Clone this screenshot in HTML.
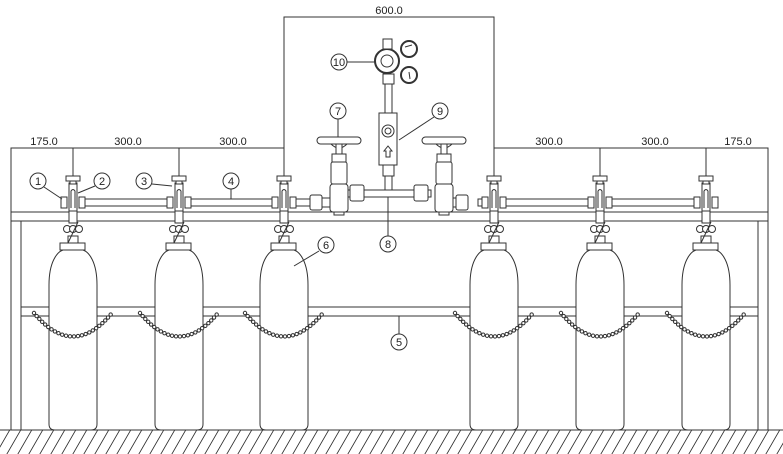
<!DOCTYPE html>
<html><head><meta charset="utf-8"><style>
html,body{margin:0;padding:0;background:#fff;}
svg{display:block;}
text{font-family:"Liberation Sans",sans-serif;font-size:11px;fill:#222;}
</style></head><body>
<svg width="783" height="454" viewBox="0 0 783 454" xmlns="http://www.w3.org/2000/svg">
<defs>
<pattern id="hatch" width="11" height="24" patternUnits="userSpaceOnUse" patternTransform="skewX(-30)">
<line x1="5" y1="0" x2="5" y2="24" stroke="#333" stroke-width="1"/>
</pattern>
<g id="cyl" fill="#fff" stroke="#333" stroke-width="1">
<line x1="0" y1="148" x2="0" y2="176"/>
<path d="M-24,424 V285 C-24,262 -16,252 -10,250 H10 C16,252 24,262 24,285 V424 Q24,430 18,430 H-18 Q-24,430 -24,424Z"/>
<rect x="-13" y="243" width="25" height="7"/>
<rect x="-5" y="236" width="10" height="7"/>
<circle cx="-6" cy="229" r="3.5"/><circle cx="0" cy="229" r="3.5"/><circle cx="6" cy="229" r="3.5"/>
<line x1="-5" y1="243" x2="5" y2="222"/>
<rect x="-4" y="210" width="8" height="13"/>
<rect x="-4" y="183" width="8" height="28"/>
<path d="M-2,208 V191 Q0,188 2,191 V208" fill="none"/>
<rect x="-7" y="176" width="14" height="5"/>
<rect x="-3" y="181" width="6" height="3"/>
<rect x="-12" y="197" width="6" height="11"/>
<rect x="6" y="197" width="6" height="11"/>
</g>
<g id="chain"><path d="M-39,313 Q0,360 39,313" fill="none" stroke="#333" stroke-width="4.4" stroke-dasharray="0 4" stroke-linecap="round"/>
<path d="M-39,313 Q0,360 39,313" fill="none" stroke="#fff" stroke-width="2.4" stroke-dasharray="0 4" stroke-linecap="round"/></g>
<g id="cv" fill="#fff" stroke="#333" stroke-width="1">
<rect x="-22" y="137" width="44" height="7" rx="3.5"/>
<path d="M-8,144 Q0,152 8,144" fill="none"/>
<rect x="-3" y="144" width="6" height="10"/>
<rect x="-7" y="154" width="14" height="8"/>
<rect x="-8" y="162" width="16" height="22" rx="2"/>
<rect x="-9" y="184" width="18" height="28" rx="3"/>
<rect x="-5" y="212" width="10" height="3"/>
</g>
</defs>
<!-- ground -->
<rect x="0" y="430" width="783" height="24" fill="url(#hatch)"/>
<line x1="0" y1="430" x2="783" y2="430" stroke="#333"/>
<!-- frame -->
<g stroke="#333" fill="none" stroke-width="1">
<line x1="11" y1="148" x2="11" y2="430"/>
<line x1="21" y1="221" x2="21" y2="430"/>
<line x1="768" y1="148" x2="768" y2="430"/>
<line x1="758" y1="221" x2="758" y2="430"/>
<line x1="11" y1="212" x2="768" y2="212"/>
<line x1="11" y1="221" x2="768" y2="221"/>
<line x1="21" y1="307" x2="758" y2="307"/>
<line x1="21" y1="316" x2="758" y2="316"/>
<!-- dims -->
<polyline points="11,212 11,148 284,148 284,176"/>
<polyline points="768,212 768,148 494,148 494,176"/>
<polyline points="284,148 284,17 494,17 494,148"/>
</g>
<g fill="#fff" stroke="#333">
<rect x="85" y="199" width="82" height="7"/>
<rect x="191" y="199" width="81" height="7"/>
<rect x="506" y="199" width="82" height="7"/>
<rect x="612" y="199" width="82" height="7"/>
<rect x="296" y="199" width="14" height="7"/>
<rect x="310" y="195" width="12" height="15" rx="2"/>
<rect x="322" y="198" width="8" height="9"/>
<rect x="478" y="199" width="10" height="7"/>
<rect x="456" y="195" width="12" height="15" rx="2"/>
<rect x="448" y="198" width="8" height="9"/>
</g>
<use href="#cyl" x="73"/><use href="#cyl" x="179"/><use href="#cyl" x="284"/>
<use href="#cyl" x="494"/><use href="#cyl" x="600"/><use href="#cyl" x="706"/>
<use href="#chain" x="73"/><use href="#chain" x="179"/><use href="#chain" x="284"/>
<use href="#chain" x="494"/><use href="#chain" x="600"/><use href="#chain" x="706"/>
<!-- center manifold -->
<g fill="#fff" stroke="#333">
<rect x="345" y="190" width="86" height="7"/>
<rect x="350" y="185" width="14" height="16" rx="2"/>
<rect x="414" y="185" width="14" height="16" rx="2"/>
<line x1="388" y1="197" x2="388" y2="236"/>
<rect x="385" y="176" width="7" height="14"/>
<rect x="383" y="165" width="11" height="11"/>
<rect x="379" y="113" width="18" height="52"/>
<circle cx="388" cy="131" r="6"/><circle cx="388" cy="131" r="3"/>
<path d="M386,157 V151 H384 L388,146 L392,151 H390 V157Z"/>
<rect x="385" y="83" width="7" height="30"/>
<rect x="383" y="74" width="11" height="10"/>
<circle cx="387" cy="61" r="12" stroke-width="2"/>
<circle cx="387" cy="61" r="6"/>
<rect x="383" y="39" width="9" height="10"/>
<circle cx="409" cy="49" r="8" stroke-width="2"/>
<circle cx="409" cy="75" r="8" stroke-width="2"/>
<line x1="405" y1="47" x2="412" y2="45"/>
<line x1="409" y1="72" x2="410" y2="79"/>
</g>
<use href="#cv" x="339"/><use href="#cv" x="444"/>
<!-- callouts -->
<g stroke="#333" fill="#fff">
<line x1="44" y1="187" x2="62" y2="199"/>
<line x1="95" y1="186" x2="78" y2="193"/>
<line x1="152" y1="184" x2="172" y2="186"/>
<line x1="231" y1="189" x2="231" y2="199"/>
<line x1="319" y1="251" x2="294" y2="266"/>
<line x1="338" y1="119" x2="338" y2="137"/>
<line x1="388" y1="235" x2="388" y2="236"/>
<line x1="434" y1="117" x2="399" y2="140"/>
<line x1="347" y1="62" x2="375" y2="62"/>
<line x1="399" y1="316" x2="399" y2="334"/>
<circle cx="38" cy="181" r="8"/><circle cx="102" cy="181" r="8"/>
<circle cx="144" cy="181" r="8"/><circle cx="231" cy="181" r="8"/>
<circle cx="326" cy="245" r="8"/><circle cx="338" cy="111" r="8"/>
<circle cx="388" cy="244" r="8"/><circle cx="440" cy="111" r="8"/>
<circle cx="339" cy="62" r="8"/><circle cx="399" cy="342" r="8"/>
</g>
<g text-anchor="middle">
<text x="38" y="185">1</text><text x="102" y="185">2</text>
<text x="144" y="185">3</text><text x="231" y="185">4</text>
<text x="326" y="249">6</text><text x="338" y="115">7</text>
<text x="388" y="248">8</text><text x="440" y="115">9</text>
<text x="339" y="66">10</text><text x="399" y="346">5</text>
<text x="389" y="14">600.0</text>
<text x="44" y="145">175.0</text><text x="128" y="145">300.0</text>
<text x="233" y="145">300.0</text><text x="549" y="145">300.0</text>
<text x="655" y="145">300.0</text><text x="738" y="145">175.0</text>
</g>
</svg>
</body></html>
